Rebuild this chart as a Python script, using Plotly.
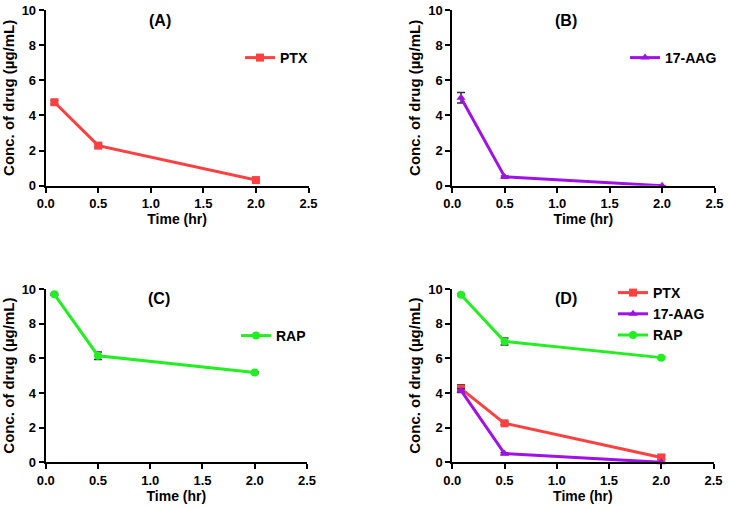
import plotly.graph_objects as go

time = [0.083, 0.5, 2.0]

# Panel A
ptx_a = [4.75, 2.28, 0.32]
ptx_a_err = [0.1, 0.1, 0.05]
# Panel B
aag_b = [5.0, 0.5, 0.0]
aag_b_err = [0.3, 0.05, 0.0]
# Panel C
rap_c = [9.69, 6.15, 5.18]
rap_c_err = [0.05, 0.22, 0.05]
# Panel D
ptx_d = [4.25, 2.25, 0.28]
ptx_d_err = [0.22, 0.08, 0.1]
aag_d = [4.15, 0.5, 0.0]
aag_d_err = [0.1, 0.05, 0.0]
rap_d = [9.67, 6.97, 6.04]
rap_d_err = [0.05, 0.2, 0.05]

panel_titles = ["(A)", "(B)", "(C)", "(D)"]
x_ticks = [0.0, 0.5, 1.0, 1.5, 2.0, 2.5]
x_ticklabels = ["0.0", "0.5", "1.0", "1.5", "2.0", "2.5"]
y_ticks = [0, 2, 4, 6, 8, 10]

RED = "#FF4040"
PURPLE = "#A010E8"
GREEN = "#22EE22"
ERR = "#333333"
FONT = "Liberation Sans, Arial, sans-serif"

W, H = 729, 509

def fx(p):
    return p / W

def fy(p):
    return 1 - p / H

def px_x(a, b):
    return [fx(a), fx(b)]

def px_y(top, bottom):
    return [fy(bottom), fy(top)]

domains = [
    (px_x(45.7, 308.5), px_y(10, 185.7)),
    (px_x(452.3, 714.5), px_y(10, 185.7)),
    (px_x(45.7, 307.0), px_y(289, 462.3)),
    (px_x(452.3, 713.5), px_y(289, 462.3)),
]

fig = go.Figure()

def add(name, y, err, color, symbol, idx, legend):
    sfx = "" if idx == 1 else str(idx)
    fig.add_trace(go.Scatter(
        x=time, y=y, name=name, mode="lines+markers",
        line=dict(color=color, width=3),
        marker=dict(symbol=symbol, size=8, color=color),
        error_y=dict(type="data", array=err, visible=True, color=ERR, thickness=1.5, width=4),
        xaxis="x" + sfx, yaxis="y" + sfx, legend=legend, cliponaxis=False,
    ))

add("PTX", ptx_a, ptx_a_err, RED, "square", 1, "legend")
add("17-AAG", aag_b, aag_b_err, PURPLE, "triangle-up", 2, "legend2")
add("RAP", rap_c, rap_c_err, GREEN, "circle", 3, "legend3")
add("PTX", ptx_d, ptx_d_err, RED, "square", 4, "legend4")
add("17-AAG", aag_d, aag_d_err, PURPLE, "triangle-up", 4, "legend4")
add("RAP", rap_d, rap_d_err, GREEN, "circle", 4, "legend4")

layout = dict(
    width=W, height=H, margin=dict(l=0, r=0, t=0, b=0, autoexpand=False),
    plot_bgcolor="white", paper_bgcolor="white",
    font=dict(family=FONT, size=12, color="black"),
    showlegend=True,
)

axis_common = dict(
    showgrid=False, zeroline=False, showline=True, linecolor="black", linewidth=2,
    ticks="outside", tickcolor="black", tickwidth=2, ticklen=5, automargin=False,
    tickfont=dict(family=FONT, size=13, color="black", weight="bold"),
)

annotations = []
for i, (xd, yd) in enumerate(domains, start=1):
    sfx = "" if i == 1 else str(i)
    layout["xaxis" + sfx] = dict(
        axis_common, domain=xd, range=[0, 2.5], tickvals=x_ticks, ticktext=x_ticklabels,
        anchor="y" + sfx,
        title=dict(text="Time (hr)", font=dict(family=FONT, size=14, weight="bold"), standoff=2),
    )
    layout["yaxis" + sfx] = dict(
        axis_common, domain=yd, range=[0, 10], tickvals=y_ticks, anchor="x" + sfx,
        title=dict(text="Conc. of drug (µg/mL)", font=dict(family=FONT, size=15, weight="bold"), standoff=4),
    )
    annotations.append(dict(
        text=panel_titles[i - 1], xref="x" + sfx + " domain", yref="y" + sfx + " domain",
        x=0.434, y=0.943, showarrow=False, xanchor="center", yanchor="middle",
        font=dict(family=FONT, size=16, weight="bold", color="black"),
    ))
layout["annotations"] = annotations

legend_common = dict(
    bgcolor="rgba(0,0,0,0)", borderwidth=0,
    font=dict(family=FONT, size=14, weight="bold", color="black"),
    xanchor="left", yanchor="top", itemwidth=30, tracegroupgap=0,
)
layout["legend"] = dict(legend_common, x=fx(240), y=fy(42))
layout["legend2"] = dict(legend_common, x=fx(625), y=fy(42))
layout["legend3"] = dict(legend_common, x=fx(236), y=fy(320))
layout["legend4"] = dict(legend_common, x=fx(613), y=fy(277))

fig.update_layout(**layout)
# remove the browser's default 8px body margin so the figure fills the window
fig.write_html(
    "out.html",
    config={"displayModeBar": False},
    post_script="document.body.style.margin='0';",
)
